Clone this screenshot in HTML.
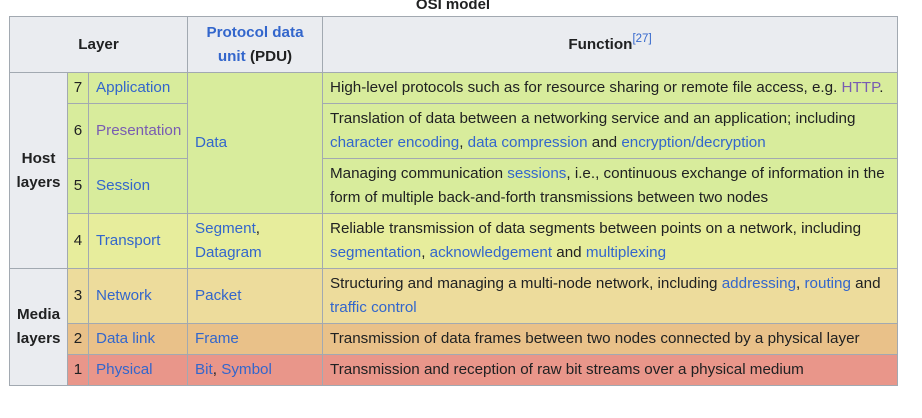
<!DOCTYPE html>
<html><head><meta charset="utf-8"><style>
body{margin:0;width:922px;height:418px;background:#fff;position:relative;overflow:hidden;font-family:"Liberation Sans",Arial,sans-serif;font-size:15.2px;color:#202122;}
.c{position:absolute;box-sizing:border-box;border:1px solid #a2a9b1;display:flex;align-items:center;padding:0 7px;line-height:24px;}
.h{background:#eaecf0;font-weight:bold;justify-content:center;text-align:center;}
.ctr{justify-content:center;text-align:center;padding:0;}
a{color:#3366cc;text-decoration:none}
.v{color:#795cb2}
.g{background:#d8ec9c}.t{background:#e7ed9c}.n{background:#eddc9c}.d{background:#e9c189}.p{background:#e9968a}
sup{font-size:11.5px;font-weight:normal;line-height:0;vertical-align:7px}
</style></head><body>
<div style="position:absolute;left:0;width:906px;top:-4px;text-align:center;font-weight:bold;font-size:15px;line-height:18px">OSI model</div>

<div class="c h" style="left:9px;top:16px;width:179px;height:57px">Layer</div>
<div class="c h" style="left:187px;top:16px;width:136px;height:57px"><span><a>Protocol data unit</a> (PDU)</span></div>
<div class="c h" style="left:322px;top:16px;width:576px;height:57px"><span>Function<sup><a>[27]</a></sup></span></div>

<div class="c h" style="left:9px;top:72px;width:59px;height:197px">Host<br>layers</div>
<div class="c h" style="left:9px;top:268px;width:59px;height:118px">Media<br>layers</div>

<div class="c g ctr" style="left:67px;top:72px;width:22px;height:32px">7</div>
<div class="c g" style="left:88px;top:72px;width:100px;height:32px"><a>Application</a></div>
<div class="c g" style="left:187px;top:72px;width:136px;height:142px"><a>Data</a></div>
<div class="c g" style="left:322px;top:72px;width:576px;height:32px"><span>High-level protocols such as for resource sharing or remote file access, e.g. <a class="v">HTTP</a>.</span></div>

<div class="c g ctr" style="left:67px;top:103px;width:22px;height:56px">6</div>
<div class="c g" style="left:88px;top:103px;width:100px;height:56px"><a class="v">Presentation</a></div>
<div class="c g" style="left:322px;top:103px;width:576px;height:56px"><span>Translation of data between a networking service and an application; including<br><a>character encoding</a>, <a>data compression</a> and <a>encryption/decryption</a></span></div>

<div class="c g ctr" style="left:67px;top:158px;width:22px;height:56px">5</div>
<div class="c g" style="left:88px;top:158px;width:100px;height:56px"><a>Session</a></div>
<div class="c g" style="left:322px;top:158px;width:576px;height:56px"><span>Managing communication <a>sessions</a>, i.e., continuous exchange of information in the<br>form of multiple back-and-forth transmissions between two nodes</span></div>

<div class="c t ctr" style="left:67px;top:213px;width:22px;height:56px">4</div>
<div class="c t" style="left:88px;top:213px;width:100px;height:56px"><a>Transport</a></div>
<div class="c t" style="left:187px;top:213px;width:136px;height:56px"><span><a>Segment</a>,<br><a>Datagram</a></span></div>
<div class="c t" style="left:322px;top:213px;width:576px;height:56px"><span>Reliable transmission of data segments between points on a network, including<br><a>segmentation</a>, <a>acknowledgement</a> and <a>multiplexing</a></span></div>

<div class="c n ctr" style="left:67px;top:268px;width:22px;height:56px">3</div>
<div class="c n" style="left:88px;top:268px;width:100px;height:56px"><a>Network</a></div>
<div class="c n" style="left:187px;top:268px;width:136px;height:56px"><a>Packet</a></div>
<div class="c n" style="left:322px;top:268px;width:576px;height:56px"><span>Structuring and managing a multi-node network, including <a>addressing</a>, <a>routing</a> and<br><a>traffic control</a></span></div>

<div class="c d ctr" style="left:67px;top:323px;width:22px;height:32px">2</div>
<div class="c d" style="left:88px;top:323px;width:100px;height:32px"><a>Data link</a></div>
<div class="c d" style="left:187px;top:323px;width:136px;height:32px"><a>Frame</a></div>
<div class="c d" style="left:322px;top:323px;width:576px;height:32px">Transmission of data frames between two nodes connected by a physical layer</div>

<div class="c p ctr" style="left:67px;top:354px;width:22px;height:32px">1</div>
<div class="c p" style="left:88px;top:354px;width:100px;height:32px"><a>Physical</a></div>
<div class="c p" style="left:187px;top:354px;width:136px;height:32px"><span><a>Bit</a>, <a>Symbol</a></span></div>
<div class="c p" style="left:322px;top:354px;width:576px;height:32px">Transmission and reception of raw bit streams over a physical medium</div>
</body></html>
